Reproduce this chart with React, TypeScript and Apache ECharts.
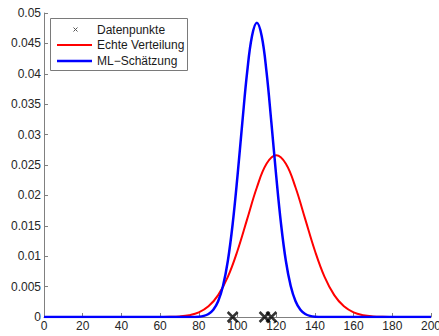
import React, { useEffect, useRef } from "react";
import * as echarts from "echarts";

// x positions and densities
const redX = [0, 10, 20, 30, 40, 50, 55, 60, 65, 70, 75, 80, 85, 90, 95, 100, 105, 110, 115, 120, 125, 130, 135, 140, 145, 150, 155, 160, 165, 170, 175, 180, 185, 190, 200];
const redY = [0, 0, 0, 0, 0, 0, 0, 0.00001, 0.00003, 0.0001, 0.0003, 0.00076, 0.00175, 0.0036, 0.0066, 0.0109, 0.0161, 0.0213, 0.0252, 0.0266, 0.0252, 0.0213, 0.0161, 0.0109, 0.0066, 0.0036, 0.00175, 0.00076, 0.0003, 0.0001, 0.00003, 0.00001, 0, 0, 0];

const blueX = [0, 10, 20, 30, 40, 50, 60, 65, 70, 75, 80, 82.5, 85, 87.5, 90, 92.5, 95, 97.5, 100, 102.5, 105, 107.5, 110, 112.5, 115, 117.5, 120, 122.5, 125, 127.5, 130, 132.5, 135, 137.5, 140, 145, 150, 155, 160, 170, 180, 190, 200];
const blueY = [0, 0, 0, 0, 0, 0, 0, 0, 0, 0.00001, 0.00006, 0.00018, 0.0005, 0.0012, 0.0026, 0.0051, 0.0092, 0.0153, 0.0232, 0.032, 0.0403, 0.0462, 0.0484, 0.0462, 0.0403, 0.032, 0.0232, 0.0153, 0.0092, 0.0051, 0.0026, 0.0012, 0.0005, 0.00018, 0.00006, 0.00001, 0, 0, 0, 0, 0, 0, 0];

const dataPointsX = [97.5, 114, 117.5];
const dataPointsY = [0, 0, 0];

const legendLabels = ["Datenpunkte", "Echte Verteilung", "ML\u2212Schätzung"];
const seriesNames = ["Datenpunkte", "Echte Verteilung", "ML-Schätzung"];

const xTicks = { min: 0, max: 200, interval: 20 };
const yTicks = { min: 0, max: 0.05, interval: 0.005 };

const FONT = "Liberation Sans, Arial, sans-serif";

export default function App() {
  const ref = useRef<HTMLDivElement>(null);
  useEffect(() => {
    const chart = echarts.init(ref.current!, null, { renderer: "svg" });
    const axisCommon = {
      axisLine: { show: true, onZero: false, lineStyle: { color: "#808080", width: 1 } },
      axisTick: { show: true, inside: true, length: 4, lineStyle: { color: "#808080" } },
      splitLine: { show: false },
      axisLabel: { color: "#262626", fontSize: 12, fontFamily: FONT },
    };
    const legendY = [29.5, 45, 61];
    chart.setOption({
      animation: false,
      grid: { left: 44, right: 8, top: 13, bottom: 19, containLabel: false, outerBoundsMode: "none" },
      xAxis: {
        type: "value",
        ...xTicks,
        ...axisCommon,
        axisLabel: { ...axisCommon.axisLabel, margin: 3, showMaxLabel: true },
      },
      yAxis: {
        type: "value",
        ...yTicks,
        ...axisCommon,
        axisLabel: { ...axisCommon.axisLabel, margin: 3 },
      },
      series: [
        {
          name: seriesNames[1],
          type: "line",
          data: redX.map((x, i) => [x, redY[i]]),
          smooth: 0.4,
          showSymbol: false,
          symbol: "none",
          lineStyle: { color: "#ff0000", width: 2 },
          z: 2,
        },
        {
          name: seriesNames[2],
          type: "line",
          data: blueX.map((x, i) => [x, blueY[i]]),
          smooth: 0.4,
          showSymbol: false,
          symbol: "none",
          lineStyle: { color: "#0000ff", width: 2.5 },
          z: 3,
        },
        {
          name: seriesNames[0],
          type: "scatter",
          data: dataPointsX.map((x, i) => [x, dataPointsY[i]]),
          symbol: "path://M0,0L10,10M10,0L0,10",
          symbolSize: 10,
          clip: false,
          itemStyle: { color: "none", borderColor: "#000000", borderWidth: 2.5 },
          z: 4,
        },
      ],
      graphic: [
        {
          type: "rect",
          shape: { x: 50.5, y: 18.5, width: 137, height: 52 },
          style: { fill: "#ffffff", stroke: "#7a7a7a", lineWidth: 1 },
          z: 10,
        },
        {
          type: "line",
          shape: { x1: 73.5, y1: legendY[0] - 2, x2: 77.5, y2: legendY[0] + 2 },
          style: { stroke: "#555555", lineWidth: 1 },
          z: 11,
        },
        {
          type: "line",
          shape: { x1: 77.5, y1: legendY[0] - 2, x2: 73.5, y2: legendY[0] + 2 },
          style: { stroke: "#555555", lineWidth: 1 },
          z: 11,
        },
        {
          type: "line",
          shape: { x1: 57, y1: legendY[1], x2: 92, y2: legendY[1] },
          style: { stroke: "#ff0000", lineWidth: 2 },
          z: 11,
        },
        {
          type: "line",
          shape: { x1: 57, y1: legendY[2], x2: 92, y2: legendY[2] },
          style: { stroke: "#0000ff", lineWidth: 2.5 },
          z: 11,
        },
        ...legendLabels.map((t, i) => ({
          type: "text",
          x: 97,
          y: legendY[i],
          style: {
            text: t,
            fill: "#1a1a1a",
            fontSize: 12,
            fontFamily: FONT,
            verticalAlign: "middle",
            align: "left",
          },
          z: 11,
        })),
      ],
    });
    return () => chart.dispose();
  }, []);
  return <div ref={ref} style={{ width: 439, height: 336, position: "absolute", left: 0, top: 0 }} />;
}
